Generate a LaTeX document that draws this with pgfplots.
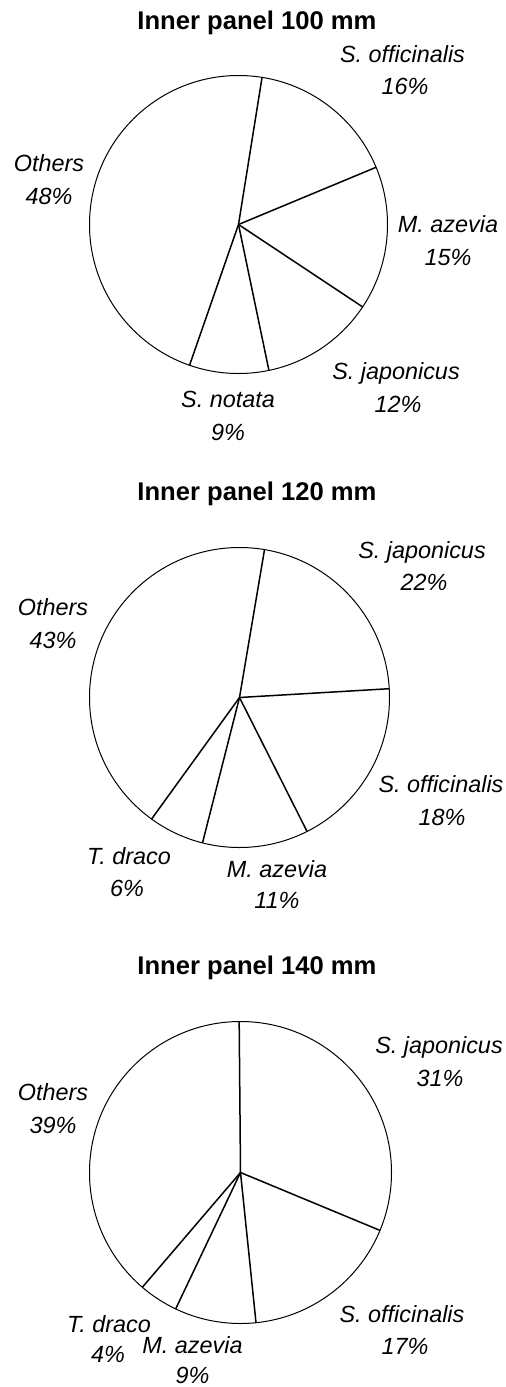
\documentclass[border=0pt]{standalone}
\usepackage{pgfplots}
\usepackage{pgfplotstable}
\pgfplotsset{compat=1.18}
\usepackage{fontspec}
\setmainfont{Liberation Sans}

% slice shares (percent), clockwise from the first boundary
\pgfplotstableread{
name pct
officinalis 16.2
azevia 15.6
japonicus 12.4
notata 8.6
others 47.2
}\pieA
\pgfplotstableread{
name pct
japonicus 21.4
officinalis 18.5
azevia 11.4
draco 6.0
others 42.7
}\pieB
\pgfplotstableread{
name pct
japonicus 31.4
officinalis 17.1
azevia 8.7
draco 4.2
others 38.6
}\pieC
\pgfplotstablecreatecol[expr accum={\pgfmathaccuma + \thisrow{pct}}{0}]{cum}{\pieA}
\pgfplotstablecreatecol[expr accum={\pgfmathaccuma + \thisrow{pct}}{0}]{cum}{\pieB}
\pgfplotstablecreatecol[expr accum={\pgfmathaccuma + \thisrow{pct}}{0}]{cum}{\pieC}

\tikzset{
  lab/.style={anchor=base, font=\fontsize{11.7}{14}\selectfont\itshape, inner sep=0pt},
  ttl/.style={anchor=base, font=\fontsize{12.8}{15}\selectfont\bfseries, inner sep=0pt},
}

\begin{document}
\begin{tikzpicture}
\begin{axis}[
  scale only axis, width=253pt, height=693.5pt,
  xmin=0, xmax=506, ymin=0, ymax=1387, y dir=reverse,
  hide axis, clip=false,
]
\path (axis cs:0,0) rectangle (axis cs:506,1387);

% ---- pie 1 ----
\draw[line width=0.5pt] (axis cs:238.5,224.5) circle[radius=149];
\addplot[black, line width=0.75pt, mark=none,
  quiver={u={149*cos(80.9-3.6*\thisrow{cum})}, v={-149*sin(80.9-3.6*\thisrow{cum})}}]
  table[x expr=238.5, y expr=224.5] {\pieA};
\node[ttl] at (axis cs:257,29) {Inner panel 100 mm};
\node[lab] at (axis cs:402.5,62) {S. officinalis};
\node[lab] at (axis cs:405,94) {16\%};
\node[lab] at (axis cs:448,232) {M. azevia};
\node[lab] at (axis cs:448,265) {15\%};
\node[lab] at (axis cs:396,379) {S. japonicus};
\node[lab] at (axis cs:398,412) {12\%};
\node[lab] at (axis cs:228,407) {S. notata};
\node[lab] at (axis cs:228,440) {9\%};
\node[lab] at (axis cs:49,171) {Others};
\node[lab] at (axis cs:49,204) {48\%};

% ---- pie 2 ----
\draw[line width=0.5pt] (axis cs:239.5,697.5) circle[radius=150];
\addplot[black, line width=0.75pt, mark=none,
  quiver={u={150*cos(80.4-3.6*\thisrow{cum})}, v={-150*sin(80.4-3.6*\thisrow{cum})}}]
  table[x expr=239.5, y expr=697.5] {\pieB};
\node[ttl] at (axis cs:257,500) {Inner panel 120 mm};
\node[lab] at (axis cs:422,558) {S. japonicus};
\node[lab] at (axis cs:424,590) {22\%};
\node[lab] at (axis cs:441,792) {S. officinalis};
\node[lab] at (axis cs:442,825) {18\%};
\node[lab] at (axis cs:277,877) {M. azevia};
\node[lab] at (axis cs:277,908) {11\%};
\node[lab] at (axis cs:129,864) {T. draco};
\node[lab] at (axis cs:127,896) {6\%};
\node[lab] at (axis cs:53,615) {Others};
\node[lab] at (axis cs:53,648) {43\%};

% ---- pie 3 ----
\draw[line width=0.5pt] (axis cs:240.5,1172.5) circle[radius=151];
\addplot[black, line width=0.75pt, mark=none,
  quiver={u={151*cos(90.5-3.6*\thisrow{cum})}, v={-151*sin(90.5-3.6*\thisrow{cum})}}]
  table[x expr=240.5, y expr=1172.5] {\pieC};
\node[ttl] at (axis cs:257,974) {Inner panel 140 mm};
\node[lab] at (axis cs:439,1053) {S. japonicus};
\node[lab] at (axis cs:440,1086) {31\%};
\node[lab] at (axis cs:402,1322) {S. officinalis};
\node[lab] at (axis cs:405,1354) {17\%};
\node[lab] at (axis cs:192.5,1353) {M. azevia};
\node[lab] at (axis cs:192.5,1383) {9\%};
\node[lab] at (axis cs:109,1332) {T. draco};
\node[lab] at (axis cs:108,1362) {4\%};
\node[lab] at (axis cs:53,1100) {Others};
\node[lab] at (axis cs:53,1133) {39\%};
\end{axis}
\end{tikzpicture}
\end{document}
